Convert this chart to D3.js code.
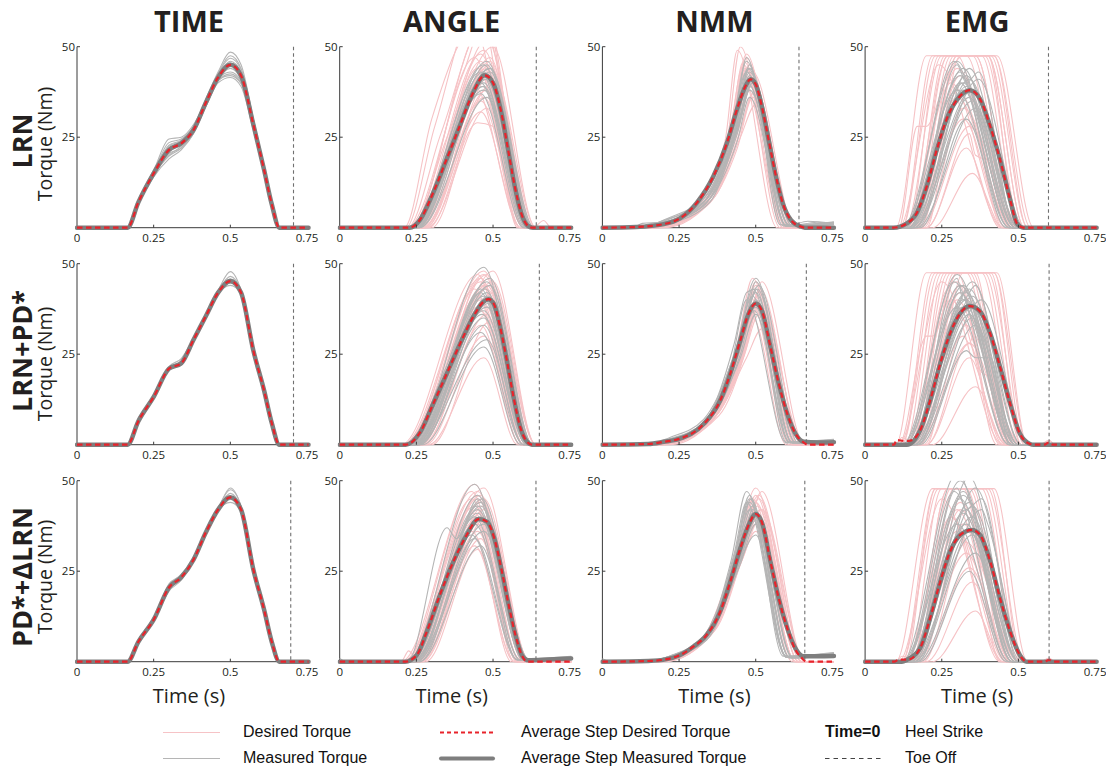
<!DOCTYPE html>
<html><head><meta charset="utf-8">
<script src="https://cdn.jsdelivr.net/npm/d3@7"></script>
<style>body{margin:0;background:#fff}</style>
</head><body>
<svg id="c" width="1106" height="769"></svg>
<script>
// ---------------- DATA ----------------
const colTitles = ["TIME", "ANGLE", "NMM", "EMG"];
const rowTitles = ["LRN", "LRN+PD*", "PD*+ΔLRN"];
const yAxisTitle = "Torque (Nm)";
const xAxisTitle = "Time (s)";
const xTicks = [0, 0.25, 0.5, 0.75];
const xTickLabels = ["0", "0.25", "0.5", "0.75"];
const yTicks = [25, 50];
const yTickLabels = ["25", "50"];
// toe-off time per row, per column
const toeOff = [[0.706, 0.641, 0.641, 0.598], [0.706, 0.651, 0.665, 0.600], [0.697, 0.640, 0.660, 0.600]];

// TIME column: values at shared knot times
const timeKnots = [0.165, 0.2, 0.25, 0.3, 0.34, 0.38, 0.42, 0.46, 0.5, 0.535, 0.575, 0.61, 0.635, 0.66];
const timeMean = [
  [0, 7, 15, 21.5, 23.3, 27, 34.5, 41.5, 45, 42, 28.5, 16, 6.5, 0],
  [0, 6.5, 13.2, 21, 22.5, 29, 35.5, 42, 45.2, 42, 26, 15, 6, 0],
  [0, 5.5, 11.6, 20.5, 23.3, 28.2, 35.7, 42, 45.4, 42, 25.5, 14.4, 5.5, 0]
];
const timeMeasured = [
  [[0,7,15.5,23.5,24.5,28,35,42.5,47.5,44,30,17,7,0],
   [0,6.5,14,19,21.5,26,34,41,43,40.5,27.5,15,6,0],
   [0,7.5,16,22.5,24,27.5,35,42,46,43,29.5,17,7,0],
   [0,6.5,14.5,20,22.5,26.5,33.5,40,41.5,39,27,15.5,6,0],
   [0,7,15,22,23.8,27.5,35.5,43,48.5,45,30,16.5,7,0],
   [0,7,15,21,23,26.5,34,41,44,41,28,16,6.8,0],
   [0,7.2,15.8,24.5,25,28.5,35,42,45.5,43,29,16,6.5,0],
   [0,6.8,14.8,20.5,22,26,33.5,40.5,42.5,40,28,16.5,7.5,0],
   [0,7,15.2,22.8,24.2,27.8,35.2,42.4,46.8,43.6,29.2,16.2,6.6,0],
   [0,6.7,14.6,19.8,22,26.2,33.8,40.8,42,39.8,27.6,15.8,6.4,0]],
  [[0,6.6,13.5,21.3,22.8,29.3,35.8,42.3,45.8,42.3,26.3,15.2,6.2,0],
   [0,6.4,13,20.6,22.2,28.6,35.2,41.6,44,41.6,25.6,14.8,5.8,0],
   [0,6.6,13.4,21.6,23.8,29.4,36,42.6,47.8,42.6,26.6,15.3,6.4,0],
   [0,6.5,13.1,20.8,22,28.8,35.3,42,44.6,42,26.1,15,6.6,0],
   [0,6.5,13.2,21.2,23.2,29.1,35.6,42.2,46.5,42.3,26.2,15.1,6.1,0]],
  [[0,6,12,21.5,24,28.5,36,42.5,47.5,43,26,14.8,6,0],
   [0,5.3,11.3,19.5,22.5,28,35.5,41.8,44,41.5,25,14.2,5.5,0],
   [0,5.6,11.8,21,23.8,28.5,36,42.3,46.5,42.5,25.8,14.6,5.8,0],
   [0,5.4,11.4,20,23,28,35.4,41.6,44.8,41.8,25.2,14.3,5.3,0],
   [0,5.5,11.6,20.8,24.2,28.4,35.8,42.2,48,42.8,25.6,14.5,5.6,0]]
];

// Other columns: each curve is a flat list of knots t,v,t,v,...
const angleMeasuredMean = [
  [0.228,0, 0.261,2.1, 0.304,9.5, 0.348,18.8, 0.391,28, 0.435,37.3, 0.473,42.1, 0.5,40, 0.527,31.8, 0.549,21.6, 0.571,11.4, 0.592,4, 0.614,0.5, 0.63,0],
  [0.215,0, 0.262,3.4, 0.305,11.3, 0.349,19.6, 0.393,28, 0.436,35.4, 0.469,39.5, 0.485,40.2, 0.502,39, 0.523,32.6, 0.545,23.3, 0.567,13.1, 0.589,4.8, 0.61,0.9, 0.627,0],
  [0.213,0, 0.251,1.8, 0.284,8.3, 0.327,18.5, 0.371,27.7, 0.414,35, 0.453,39.4, 0.48,38.7, 0.507,33.2, 0.529,24.9, 0.551,15.7, 0.573,7.4, 0.594,1.8, 0.615,0.4, 0.68,0.6, 0.755,0.9]
];
const angleDesiredMean = [
  angleMeasuredMean[0],
  angleMeasuredMean[1],
  [0.213,0, 0.251,1.8, 0.284,8.3, 0.327,18.5, 0.371,27.7, 0.414,35, 0.453,39.4, 0.48,38.7, 0.507,33.2, 0.529,24.9, 0.551,15.7, 0.573,7.4, 0.594,1.8, 0.611,0]
];
const anglePink = [
  [[0.215,0, 0.31,28, 0.45,62, 0.6,0],[0.22,0, 0.33,26, 0.47,56, 0.62,0],[0.23,0, 0.35,25, 0.48,52, 0.63,0],
   [0.24,0, 0.47,49, 0.62,0],[0.25,0, 0.46,46, 0.6,0],[0.25,0, 0.49,45, 0.63,0],[0.26,0, 0.47,42, 0.61,0],
   [0.27,0, 0.48,38, 0.6,0],[0.28,0, 0.46,32, 0.59,0],[0.29,0, 0.45,29, 0.5,28, 0.58,0],[0.3,0, 0.47,36, 0.6,0],
   [0.23,0, 0.44,47, 0.59,0],[0.24,0, 0.5,50, 0.64,0],[0.26,0, 0.45,44, 0.6,0],[0.27,0, 0.5,40, 0.62,0],
   [0.24,0, 0.48,43, 0.63,0, 0.665,2, 0.69,0],[0.22,0, 0.4,42, 0.48,58, 0.61,0],[0.28,0, 0.49,47, 0.62,0],
   [0.21,0, 0.3,30, 0.44,55, 0.59,0],[0.235,0, 0.46,48, 0.61,0],[0.245,0, 0.48,44, 0.62,0],[0.255,0, 0.47,41, 0.615,0],
   [0.265,0, 0.49,46, 0.635,0],[0.275,0, 0.46,35, 0.6,0],[0.285,0, 0.48,33, 0.6,0],[0.23,0, 0.42,50, 0.47,60, 0.61,0],
   [0.25,0, 0.44,39, 0.59,0],[0.27,0, 0.5,43, 0.64,0]],
  [[0.2,0, 0.45,47, 0.6,0],[0.21,0, 0.47,48, 0.62,0],[0.22,0, 0.46,45, 0.6,0],[0.23,0, 0.48,47, 0.63,0],
   [0.24,0, 0.47,44, 0.61,0],[0.25,0, 0.49,46, 0.64,0],[0.26,0, 0.46,40, 0.6,0],[0.27,0, 0.48,36, 0.6,0],
   [0.28,0, 0.47,30, 0.59,0],[0.29,0, 0.47,24, 0.58,0],[0.22,0, 0.44,43, 0.59,0],[0.24,0, 0.5,42, 0.63,0],
   [0.3,0, 0.49,34, 0.61,0],[0.21,0, 0.35,22, 0.46,46, 0.61,0],[0.25,0, 0.45,38, 0.6,0],[0.26,0, 0.5,48, 0.64,0],
   [0.205,0, 0.46,46, 0.61,0],[0.215,0, 0.48,44, 0.62,0],[0.225,0, 0.47,47, 0.62,0],[0.235,0, 0.45,41, 0.6,0],
   [0.245,0, 0.48,43, 0.63,0],[0.255,0, 0.47,39, 0.61,0],[0.265,0, 0.49,44, 0.64,0],[0.275,0, 0.46,33, 0.59,0],
   [0.23,0, 0.5,45, 0.64,0],[0.24,0, 0.46,37, 0.6,0]],
  [[0.2,0, 0.44,49, 0.6,0],[0.21,0, 0.45,47, 0.61,0],[0.22,0, 0.43,45, 0.58,0],[0.23,0, 0.46,44, 0.6,0],
   [0.24,0, 0.44,41, 0.59,0],[0.25,0, 0.47,43, 0.62,0],[0.26,0, 0.45,38, 0.58,0],[0.27,0, 0.46,34, 0.57,0],
   [0.28,0, 0.45,31, 0.56,0],[0.2,0, 0.225,3, 0.24,2, 0.45,46, 0.6,0],[0.22,0, 0.47,48, 0.62,0],
   [0.25,0, 0.43,36, 0.57,0],[0.23,0, 0.45,42, 0.59,0],[0.26,0, 0.48,40, 0.61,0],
   [0.205,0, 0.45,45, 0.6,0],[0.215,0, 0.44,43, 0.59,0],[0.225,0, 0.46,46, 0.61,0],[0.235,0, 0.44,39, 0.58,0],
   [0.245,0, 0.46,41, 0.6,0],[0.255,0, 0.45,36, 0.58,0],[0.265,0, 0.47,42, 0.61,0],[0.21,0, 0.43,47, 0.58,0],
   [0.24,0, 0.47,45, 0.62,0],[0.27,0, 0.44,32, 0.57,0]]
];
const angleGray = [
  [[0.23,0, 0.47,45, 0.62,0],[0.24,0, 0.48,46, 0.63,0],[0.235,0, 0.46,43, 0.61,0],[0.25,0, 0.48,41, 0.62,0],
   [0.24,0, 0.47,39, 0.61,0],[0.26,0, 0.49,44, 0.63,0],[0.245,0, 0.46,37, 0.6,0],[0.23,0, 0.48,42, 0.625,0],
   [0.25,0, 0.47,40, 0.615,0],[0.24,0, 0.49,44, 0.635,0],[0.26,0, 0.48,36, 0.61,0],[0.235,0, 0.475,41, 0.62,0],
   [0.235,0, 0.47,43, 0.615,0],[0.245,0, 0.48,42, 0.625,0],[0.24,0, 0.46,40, 0.605,0],[0.25,0, 0.49,43, 0.63,0],
   [0.23,0, 0.47,38, 0.61,0],[0.255,0, 0.48,45, 0.625,0],[0.24,0, 0.475,42, 0.62,0],[0.25,0, 0.465,39, 0.61,0]],
  [[0.23,0, 0.47,49, 0.62,0],[0.24,0, 0.48,45, 0.63,0],[0.25,0, 0.46,42, 0.61,0],[0.235,0, 0.48,40, 0.62,0],
   [0.26,0, 0.47,33, 0.6,0],[0.27,0, 0.47,27, 0.59,0],[0.25,0, 0.48,29, 0.6,0],[0.24,0, 0.49,44, 0.63,0],
   [0.22,0, 0.34,20, 0.46,43, 0.61,0],[0.245,0, 0.47,37, 0.615,0],[0.255,0, 0.485,41, 0.625,0],[0.26,0, 0.46,31, 0.6,0],
   [0.235,0, 0.475,43, 0.62,0],[0.245,0, 0.48,38, 0.62,0],[0.25,0, 0.47,35, 0.61,0],[0.24,0, 0.49,46, 0.63,0],
   [0.255,0, 0.48,42, 0.625,0],[0.23,0, 0.47,41, 0.615,0],[0.26,0, 0.485,39, 0.62,0],[0.245,0, 0.465,36, 0.61,0]],
  [[0.22,0, 0.44,49, 0.6,0.8, 0.755,1.5],[0.23,0, 0.45,46, 0.61,0.5, 0.755,1],[0.24,0, 0.46,43, 0.6,0.6, 0.755,1.2],
   [0.25,0, 0.44,40, 0.59,0.4, 0.755,0.8],[0.24,0, 0.47,36, 0.61,0.5, 0.755,1],[0.26,0, 0.46,32, 0.58,0.5, 0.755,1.3],
   [0.22,0, 0.35,37, 0.38,34, 0.45,45, 0.6,0.6, 0.755,1],[0.23,0, 0.45,41, 0.6,0.4, 0.755,0.7],
   [0.25,0, 0.47,38, 0.62,0.5, 0.755,1.2],[0,1, 0.02,0, 0.24,0, 0.46,44, 0.61,0.6, 0.755,1],[0.26,0, 0.44,34, 0.58,0.5, 0.755,0.9],
   [0.225,0, 0.45,43, 0.6,0.5, 0.755,1],[0.235,0, 0.46,40, 0.61,0.6, 0.755,1.1],[0.23,0, 0.44,38, 0.59,0.5, 0.755,0.9],
   [0.245,0, 0.45,42, 0.6,0.4, 0.755,1],[0.24,0, 0.465,45, 0.61,0.6, 0.755,1.2],[0.22,0, 0.43,35, 0.58,0.5, 0.755,0.8],
   [0.25,0, 0.46,39, 0.61,0.5, 0.755,1]]
];

const nmmMeasuredMean = [
  [0.11,0.2, 0.2,1, 0.253,2.6, 0.307,6.8, 0.362,14.2, 0.406,23.4, 0.439,32.7, 0.466,39, 0.483,41, 0.5,39.6, 0.522,32.7, 0.544,23.4, 0.566,14.2, 0.588,6.8, 0.615,2.1, 0.647,0.3, 0.66,0],
  [0.15,0.2, 0.2,0.8, 0.25,1.6, 0.33,5.7, 0.384,12.2, 0.417,19.6, 0.45,28.9, 0.477,36.3, 0.5,39, 0.521,36.8, 0.548,27, 0.575,16.9, 0.603,8.5, 0.63,3, 0.657,0.8, 0.7,0.6, 0.755,0.7],
  [0.15,0.2, 0.21,0.7, 0.25,1.7, 0.297,4.2, 0.34,7.4, 0.384,13.8, 0.417,22.1, 0.45,31.4, 0.477,37.8, 0.5,40.8, 0.521,38.3, 0.548,27.7, 0.575,17.5, 0.603,9.2, 0.63,3.6, 0.655,1.5, 0.755,1.6]
];
const nmmDesiredMean = [
  nmmMeasuredMean[0],
  [0.15,0.2, 0.2,0.8, 0.25,1.6, 0.33,5.7, 0.384,12.2, 0.417,19.6, 0.45,28.9, 0.477,36.3, 0.5,39, 0.521,36.8, 0.548,27, 0.575,16.9, 0.603,8.5, 0.63,3, 0.657,0.6, 0.67,0],
  [0.15,0.2, 0.21,0.7, 0.25,1.7, 0.297,4.2, 0.34,7.4, 0.384,13.8, 0.417,22.1, 0.45,31.4, 0.477,37.8, 0.5,40.8, 0.521,38.3, 0.548,27.7, 0.575,17.5, 0.603,9.2, 0.63,3.2, 0.652,0.9, 0.665,0]
];
const nmmPink = [
  [[0.12,0, 0.3,5, 0.4,20, 0.45,50, 0.58,0],[0.14,0, 0.32,6, 0.41,22, 0.46,46, 0.6,0],[0.15,0, 0.33,6, 0.42,24, 0.47,44, 0.6,0],
   [0.16,0, 0.34,7, 0.43,25, 0.48,42, 0.61,0],[0.15,0, 0.35,7, 0.44,26, 0.49,40, 0.62,0],[0.18,0, 0.36,8, 0.44,24, 0.5,38, 0.62,0],
   [0.2,0, 0.37,9, 0.45,25, 0.5,34, 0.61,0],[0.14,0, 0.33,7, 0.42,27, 0.47,48, 0.6,0],[0.16,0, 0.35,8, 0.43,26, 0.48,45, 0.61,0],
   [0.18,0, 0.36,9, 0.44,28, 0.49,43, 0.63,0],[0.13,0, 0.32,6, 0.41,23, 0.46,41, 0.59,0],[0.17,0, 0.34,6, 0.44,22, 0.49,36, 0.6,0],
   [0.12,0, 0.3,6, 0.4,24, 0.44,49, 0.57,0],
   [0.13,0, 0.31,6, 0.41,24, 0.46,45, 0.59,0],[0.15,0, 0.33,7, 0.42,25, 0.47,43, 0.6,0],[0.17,0, 0.35,8, 0.44,27, 0.48,40, 0.61,0],
   [0.14,0, 0.32,7, 0.42,26, 0.47,47, 0.59,0],[0.16,0, 0.34,7, 0.43,24, 0.485,39, 0.62,0],[0.19,0, 0.36,8, 0.45,27, 0.49,37, 0.61,0],
   [0.15,0, 0.33,6, 0.43,28, 0.465,44, 0.6,0]],
  [[0.15,0, 0.33,5, 0.43,22, 0.49,46, 0.62,0],[0.16,0, 0.34,5, 0.44,23, 0.5,44, 0.63,0],[0.18,0, 0.35,6, 0.45,24, 0.51,42, 0.64,0],
   [0.17,0, 0.36,7, 0.46,25, 0.52,40, 0.65,0],[0.2,0, 0.37,8, 0.46,24, 0.51,36, 0.64,0],[0.22,0, 0.38,9, 0.47,24, 0.52,32, 0.63,0],
   [0.16,0, 0.35,6, 0.45,26, 0.5,43, 0.66,0],[0.19,0, 0.36,7, 0.45,22, 0.5,38, 0.62,0],[0.15,0, 0.33,6, 0.43,24, 0.48,41, 0.61,0],
   [0.2,0, 0.38,8, 0.47,27, 0.52,45, 0.66,0],[0.18,0, 0.34,6, 0.44,21, 0.49,35, 0.6,0],
   [0.16,0, 0.34,6, 0.44,24, 0.5,45, 0.63,0],[0.17,0, 0.35,6, 0.45,25, 0.505,41, 0.64,0],[0.19,0, 0.37,8, 0.46,26, 0.515,43, 0.65,0],
   [0.18,0, 0.35,7, 0.45,23, 0.5,37, 0.62,0],[0.16,0, 0.34,6, 0.44,25, 0.49,42, 0.63,0],[0.2,0, 0.37,8, 0.46,25, 0.51,39, 0.64,0]],
  [[0.15,0, 0.33,6, 0.43,27, 0.5,48, 0.64,0],[0.16,0, 0.34,7, 0.44,28, 0.51,46, 0.65,0],[0.18,0, 0.35,7, 0.45,29, 0.5,44, 0.64,0],
   [0.17,0, 0.35,8, 0.45,28, 0.52,42, 0.66,0],[0.2,0, 0.36,8, 0.46,29, 0.51,39, 0.65,0],[0.16,0, 0.34,7, 0.44,29, 0.49,45, 0.63,0],
   [0.19,0, 0.36,9, 0.45,27, 0.5,36, 0.63,0],[0.14,0, 0.32,6, 0.42,26, 0.48,43, 0.62,0],[0.2,0, 0.37,9, 0.46,30, 0.52,47, 0.66,0],
   [0.17,0, 0.34,7, 0.44,26, 0.5,40, 0.63,0],
   [0.16,0, 0.34,7, 0.44,28, 0.5,46, 0.64,0],[0.17,0, 0.35,7, 0.45,28, 0.505,43, 0.65,0],[0.18,0, 0.35,8, 0.45,29, 0.51,45, 0.65,0],
   [0.15,0, 0.33,6, 0.43,27, 0.49,41, 0.63,0],[0.19,0, 0.36,8, 0.46,30, 0.515,42, 0.66,0],[0.16,0, 0.34,7, 0.44,27, 0.5,38, 0.63,0]]
];
const nmmGray = [
  [[0.1,0, 0.13,1.2, 0.2,1.5, 0.32,7, 0.42,26, 0.47,46, 0.6,0.5, 0.755,1.5],[0.11,0, 0.15,1, 0.22,2, 0.33,7, 0.43,28, 0.48,44, 0.61,0.4, 0.7,1.5, 0.755,1],
   [0.12,0, 0.2,2, 0.34,8, 0.43,25, 0.48,42, 0.6,0.6, 0.755,1.2],[0.1,0, 0.2,1.5, 0.33,6, 0.44,27, 0.49,40, 0.62,0.3, 0.755,1],
   [0.13,0, 0.22,1.5, 0.35,8, 0.44,26, 0.48,38, 0.61,0.5, 0.755,0.8],[0.12,0, 0.21,2.5, 0.34,9, 0.43,27, 0.47,47, 0.59,0.5, 0.755,1.6],
   [0.11,0, 0.2,1, 0.34,7, 0.44,24, 0.48,36, 0.6,0.4, 0.755,0.9],[0.1,0, 0.2,1.8, 0.32,8, 0.42,28, 0.47,43, 0.61,0.7, 0.67,1.8, 0.755,1.2],
   [0.12,0, 0.22,1.2, 0.35,7, 0.45,30, 0.49,41, 0.62,0.5, 0.755,1.1],[0.14,0, 0.23,2, 0.35,9, 0.44,29, 0.48,45, 0.58,0.8, 0.755,1.3],
   [0.11,0, 0.21,1.5, 0.33,7, 0.43,27, 0.48,43, 0.6,0.5, 0.755,1.2],[0.12,0, 0.22,1.8, 0.34,8, 0.44,28, 0.485,41, 0.61,0.6, 0.755,1],
   [0.1,0, 0.2,1.4, 0.33,7, 0.43,26, 0.475,40, 0.6,0.5, 0.755,1.4],[0.13,0, 0.23,2, 0.35,8, 0.44,27, 0.48,39, 0.6,0.4, 0.755,1.1],
   [0.11,0, 0.21,1.6, 0.34,8, 0.43,29, 0.475,44, 0.61,0.6, 0.755,1.3]],
  [[0.12,0, 0.2,1, 0.32,5, 0.43,24, 0.5,46, 0.63,0.6, 0.755,1.3],[0.13,0, 0.22,1.5, 0.34,6, 0.44,25, 0.49,43, 0.62,0.5, 0.755,1],
   [0.14,0, 0.2,1.2, 0.33,6, 0.43,28, 0.47,42, 0.5,43, 0.61,0.8, 0.755,1.5],[0.15,0, 0.23,1.5, 0.35,7, 0.45,25, 0.5,40, 0.62,0.5, 0.755,0.9],
   [0.12,0, 0.21,1, 0.34,6, 0.44,27, 0.5,38, 0.6,0.7, 0.755,1.2],[0.14,0, 0.22,2, 0.33,7, 0.44,26, 0.51,44, 0.64,0.4, 0.755,1],
   [0.13,0, 0.22,1.3, 0.35,7, 0.45,24, 0.5,36, 0.61,0.6, 0.755,1.4],[0.15,0, 0.24,1.6, 0.35,8, 0.46,30, 0.5,45, 0.63,0.6, 0.755,1.2],
   [0.12,0, 0.2,1, 0.32,5, 0.42,22, 0.47,40, 0.6,0.5, 0.755,1],
   [0.13,0, 0.21,1.2, 0.33,6, 0.44,26, 0.5,42, 0.62,0.6, 0.755,1.2],[0.14,0, 0.22,1.4, 0.34,6, 0.44,25, 0.5,39, 0.62,0.5, 0.755,1.1],
   [0.12,0, 0.21,1.1, 0.33,6, 0.43,25, 0.49,41, 0.61,0.6, 0.755,1.3],[0.15,0, 0.23,1.5, 0.35,7, 0.45,27, 0.505,43, 0.63,0.5, 0.755,1],
   [0.13,0, 0.22,1.3, 0.34,7, 0.44,24, 0.495,37, 0.61,0.6, 0.755,1.2]],
  [[0.12,0, 0.22,1.5, 0.33,6, 0.42,28, 0.47,47, 0.6,1.5, 0.755,2.5],[0.13,0, 0.23,1.5, 0.34,6, 0.43,28, 0.48,45, 0.61,1.2, 0.755,2],
   [0.14,0, 0.22,1.2, 0.34,7, 0.44,30, 0.49,43, 0.62,1, 0.755,1.8],[0.15,0, 0.24,2, 0.35,8, 0.45,28, 0.5,40, 0.62,1.3, 0.755,2.2],
   [0.12,0, 0.21,1, 0.34,7, 0.44,26, 0.5,35, 0.6,1.2, 0.755,1.6],[0.13,0, 0.22,1.6, 0.33,7, 0.43,29, 0.48,46, 0.59,1.5, 0.755,2.4],
   [0.14,0, 0.23,1.8, 0.35,8, 0.45,27, 0.5,38, 0.61,1, 0.755,1.5],[0.12,0, 0.21,1.2, 0.33,6, 0.43,30, 0.47,44, 0.6,1.2, 0.755,2],
   [0,0.8, 0.03,0, 0.14,0, 0.24,1.5, 0.35,8, 0.45,29, 0.49,42, 0.61,1.2, 0.755,1.8],
   [0.13,0, 0.22,1.4, 0.34,7, 0.43,29, 0.48,44, 0.6,1.2, 0.755,2],[0.14,0, 0.23,1.6, 0.35,7, 0.44,28, 0.49,41, 0.61,1.3, 0.755,2.2],
   [0.12,0, 0.22,1.3, 0.33,6, 0.43,28, 0.48,42, 0.6,1.4, 0.755,1.8],[0.15,0, 0.24,1.8, 0.35,8, 0.45,29, 0.5,39, 0.62,1.2, 0.755,2.1],
   [0.13,0, 0.22,1.5, 0.34,7, 0.44,30, 0.485,45, 0.6,1.5, 0.755,2.3]]
];

const emgMeasuredMean = [
  [0.092,0, 0.136,1.2, 0.168,4, 0.201,11.4, 0.234,21.6, 0.266,30, 0.31,36.4, 0.342,38, 0.375,35.5, 0.408,28, 0.44,18.8, 0.473,7.7, 0.495,1.2, 0.516,0],
  [0.136,0, 0.179,3.9, 0.212,12.2, 0.245,22.4, 0.277,30.7, 0.31,36.3, 0.342,38.3, 0.375,36.8, 0.408,30.7, 0.44,21.5, 0.473,11.3, 0.505,3, 0.538,0.2, 0.55,0],
  [0.12,0, 0.136,0.5, 0.179,3.7, 0.212,12, 0.245,22.1, 0.277,30.4, 0.31,35, 0.348,36.4, 0.375,35, 0.408,27.7, 0.44,17.5, 0.473,8.3, 0.505,1.8, 0.527,0]
];
const emgDesiredMean = [
  emgMeasuredMean[0],
  [0.095,0, 0.102,1.3, 0.13,1, 0.15,1.2, 0.179,3.9, 0.212,12.2, 0.245,22.4, 0.277,30.7, 0.31,36.3, 0.342,38.3, 0.375,36.8, 0.408,30.7, 0.44,21.5, 0.473,11.3, 0.505,3, 0.538,0.2, 0.55,0, 0.585,0, 0.6,0.7, 0.612,0],
  [0.095,0, 0.11,0.6, 0.14,0.6, 0.179,3.7, 0.212,12, 0.245,22.1, 0.277,30.4, 0.31,35, 0.348,36.4, 0.375,35, 0.408,27.7, 0.44,17.5, 0.473,8.3, 0.505,1.8, 0.527,0, 0.585,0, 0.6,0.5, 0.612,0]
];
const emgPink = [
  [[0.1,0, 0.2,47.5, 0.3,47.5, 0.45,0],[0.12,0, 0.22,47.5, 0.35,47.5, 0.48,0],[0.14,0, 0.24,47.5, 0.38,47.5, 0.5,0],
   [0.15,0, 0.26,47.5, 0.4,47.5, 0.52,0],[0.16,0, 0.28,47.5, 0.42,47.5, 0.54,0],[0.18,0, 0.3,47.5, 0.43,47.5, 0.55,0],
   [0.13,0, 0.25,47.5, 0.33,47.5, 0.47,0],[0.11,0, 0.17,28, 0.2,28, 0.26,40, 0.32,47.5, 0.4,47.5, 0.5,0],
   [0.16,0, 0.32,30, 0.46,0],[0.2,0, 0.33,22, 0.44,0],[0.22,0, 0.35,15, 0.45,0],[0.18,0, 0.3,38, 0.48,0],
   [0.15,0, 0.3,44, 0.5,0],[0.2,0, 0.34,26, 0.36,20, 0.42,18, 0.47,0],[0.14,0, 0.27,47.5, 0.36,47.5, 0.49,0],
   [0.17,0, 0.29,47.5, 0.41,47.5, 0.53,0],
   [0.12,0, 0.23,47.5, 0.36,47.5, 0.49,0],[0.15,0, 0.27,47.5, 0.39,47.5, 0.51,0],[0.17,0, 0.3,47.5, 0.42,47.5, 0.53,0],
   [0.13,0, 0.28,40, 0.46,0],[0.14,0, 0.3,36, 0.48,0],[0.19,0, 0.32,33, 0.5,0],[0.16,0, 0.31,42, 0.51,0],
   [0.11,0, 0.24,45, 0.45,0],[0.18,0, 0.34,28, 0.49,0],[0.2,0, 0.31,47.5, 0.4,47.5, 0.52,0]],
  [[0.1,0, 0.2,47.5, 0.3,47.5, 0.43,0],[0.12,0, 0.23,47.5, 0.35,47.5, 0.47,0],[0.14,0, 0.25,47.5, 0.38,47.5, 0.5,0],
   [0.15,0, 0.27,47.5, 0.4,47.5, 0.52,0],[0.17,0, 0.29,47.5, 0.42,47.5, 0.53,0],[0.13,0, 0.24,47.5, 0.33,47.5, 0.46,0],
   [0.1,0, 0.12,2, 0.15,1, 0.26,42, 0.3,45, 0.44,0],[0.16,0, 0.32,30, 0.34,28, 0.36,32, 0.48,0],[0.2,0, 0.34,24, 0.45,0],
   [0.22,0, 0.36,16, 0.46,0],[0.18,0, 0.32,38, 0.49,0],[0.15,0, 0.31,44, 0.5,0],[0.2,0, 0.34,28, 0.38,20, 0.43,18, 0.48,0],
   [0.16,0, 0.28,47.5, 0.41,47.5, 0.51,0],[0.11,0, 0.2,30, 0.22,30, 0.3,47.5, 0.36,47.5, 0.46,0],
   [0.15,0, 0.3,40, 0.47,0, 0.57,0, 0.6,1.2, 0.62,0],
   [0.12,0, 0.22,47.5, 0.34,47.5, 0.47,0],[0.15,0, 0.26,47.5, 0.39,47.5, 0.51,0],[0.18,0, 0.3,47.5, 0.43,47.5, 0.53,0],
   [0.13,0, 0.28,40, 0.46,0],[0.14,0, 0.3,36, 0.48,0],[0.19,0, 0.33,33, 0.5,0],[0.16,0, 0.31,42, 0.51,0],
   [0.11,0, 0.25,45, 0.45,0],[0.17,0, 0.34,28, 0.49,0],[0.2,0, 0.32,47.5, 0.42,47.5, 0.52,0]],
  [[0.1,0, 0.22,47.8, 0.32,47.8, 0.44,0],[0.12,0, 0.24,47.8, 0.35,47.8, 0.47,0],[0.14,0, 0.25,47.8, 0.38,47.8, 0.5,0],
   [0.15,0, 0.27,47.8, 0.4,47.8, 0.52,0],[0.13,0, 0.23,47.8, 0.33,47.8, 0.46,0],[0.1,0, 0.12,1.5, 0.16,1, 0.28,40, 0.44,0],
   [0.16,0, 0.33,30, 0.47,0],[0.2,0, 0.35,22, 0.46,0],[0.18,0, 0.32,38, 0.49,0],[0.15,0, 0.31,44, 0.5,0],
   [0.22,0, 0.36,14, 0.45,0],[0.16,0, 0.28,47.8, 0.41,47.8, 0.51,0],[0.15,0, 0.3,42, 0.47,0, 0.57,0, 0.6,1, 0.62,0],
   [0.12,0, 0.23,47.8, 0.34,47.8, 0.47,0],[0.15,0, 0.27,47.8, 0.39,47.8, 0.51,0],[0.17,0, 0.29,47.8, 0.42,47.8, 0.53,0],
   [0.13,0, 0.28,40, 0.46,0],[0.14,0, 0.3,36, 0.48,0],[0.19,0, 0.33,33, 0.5,0],[0.16,0, 0.31,42, 0.51,0],
   [0.11,0, 0.25,45, 0.45,0],[0.18,0, 0.34,26, 0.48,0]]
];
const emgGray = [
  [[0.12,0, 0.3,46, 0.48,0],[0.13,0, 0.32,44, 0.49,0],[0.14,0, 0.33,42, 0.5,0],[0.15,0, 0.31,40, 0.47,0],
   [0.14,0, 0.35,38, 0.5,0],[0.16,0, 0.34,36, 0.48,0],[0.17,0, 0.36,33, 0.49,0],[0.15,0, 0.3,45, 0.33,40, 0.37,43, 0.49,0],
   [0.18,0, 0.33,30, 0.46,0],[0.13,0, 0.29,46, 0.47,0],[0.16,0, 0.37,41, 0.52,0],[0.14,0, 0.32,38, 0.48,0],
   [0.13,0, 0.31,42, 0.48,0],[0.14,0, 0.32,40, 0.49,0],[0.15,0, 0.34,41, 0.5,0],[0.12,0, 0.3,38, 0.47,0],
   [0.16,0, 0.33,39, 0.49,0],[0.14,0, 0.31,43, 0.48,0],[0.15,0, 0.35,35, 0.5,0],[0.17,0, 0.34,44, 0.5,0]],
  [[0.12,0, 0.3,47, 0.48,0],[0.13,0, 0.31,44, 0.49,0],[0.14,0, 0.33,42, 0.5,0],[0.15,0, 0.32,40, 0.48,0],
   [0.14,0, 0.35,38, 0.5,0],[0.16,0, 0.34,36, 0.48,0],[0.17,0, 0.36,33, 0.49,0],[0.15,0, 0.3,46, 0.32,40, 0.36,44, 0.49,0],
   [0.18,0, 0.33,26, 0.36,24, 0.41,24, 0.47,0],[0.13,0, 0.29,45, 0.47,0],[0.16,0, 0.38,40, 0.53,0],[0.14,0, 0.32,38, 0.48,0],
   [0.17,0, 0.35,45, 0.51,0],
   [0.13,0, 0.31,42, 0.48,0],[0.14,0, 0.33,40, 0.49,0],[0.15,0, 0.34,43, 0.5,0],[0.12,0, 0.3,38, 0.47,0],
   [0.16,0, 0.34,39, 0.5,0],[0.14,0, 0.32,44, 0.48,0],[0.15,0, 0.35,35, 0.5,0],[0.17,0, 0.35,41, 0.51,0]],
  [[0.12,0, 0.3,52, 0.48,0],[0.13,0, 0.31,50, 0.49,0],[0.14,0, 0.32,46, 0.5,0],[0.15,0, 0.33,42, 0.48,0],
   [0.14,0, 0.35,40, 0.5,0],[0.16,0, 0.34,36, 0.48,0],[0.17,0, 0.36,30, 0.49,0],[0.15,0, 0.3,48, 0.33,42, 0.38,45, 0.5,0],
   [0.18,0, 0.34,25, 0.46,0],[0.13,0, 0.29,47, 0.47,0],[0.16,0, 0.38,42, 0.4,38, 0.52,0],[0.14,0, 0.33,38, 0.48,0],
   [0.17,0, 0.36,48, 0.52,0],
   [0.13,0, 0.31,45, 0.48,0],[0.14,0, 0.32,41, 0.49,0],[0.15,0, 0.34,44, 0.5,0],[0.12,0, 0.3,38, 0.47,0],
   [0.16,0, 0.34,51, 0.5,0],[0.14,0, 0.32,47, 0.48,0],[0.15,0, 0.35,35, 0.5,0],[0.17,0, 0.35,43, 0.51,0]]
];

const legendLabels = ["Desired Torque", "Measured Torque", "Average Step Desired Torque", "Average Step Measured Torque", "Heel Strike", "Toe Off"];
const legendBoldKey = "Time=0";

// ---------------- DRAWING ----------------
const COLORS = { pink: "#f6c3c6", gray: "#b5b5b5", meanGray: "#7e7e7e", red: "#e8232b", axis: "#3a3a3a", text: "#231f20" };
const W = 230, H = 181;
const svg = d3.select("#c");

function flatToPts(flat) {
  const pts = [];
  for (let i = 0; i < flat.length; i += 2) pts.push([flat[i], flat[i + 1]]);
  if (pts[0][0] > 0) pts.unshift([0, 0]);
  if (pts[pts.length - 1][0] < 0.755) pts.push([0.755, pts[pts.length - 1][1]]);
  return pts;
}
function timeToPts(vals) { return flatToPts(timeKnots.flatMap((t, i) => [t, vals[i]])); }

function panelData(r, c) {
  if (c === 0) {
    return { pink: [], gray: timeMeasured[r].map(timeToPts), desired: timeToPts(timeMean[r]), measured: timeToPts(timeMean[r]) };
  }
  const src = [null,
    [anglePink, angleGray, angleDesiredMean, angleMeasuredMean],
    [nmmPink, nmmGray, nmmDesiredMean, nmmMeasuredMean],
    [emgPink, emgGray, emgDesiredMean, emgMeasuredMean]][c];
  return { pink: src[0][r].map(flatToPts), gray: src[1][r].map(flatToPts), desired: flatToPts(src[2][r]), measured: flatToPts(src[3][r]) };
}

const defs = svg.append("defs");

rowTitles.forEach((rt, r) => {
  colTitles.forEach((ct, c) => {
    const x0 = 77 + c * 262.7, yb = 227.7 + r * 217;
    const x = d3.scaleLinear().domain([0, 0.75]).range([x0, x0 + W]);
    const y = d3.scaleLinear().domain([0, 50]).range([yb, yb - H]);
    const line = d3.line().x(d => x(d[0])).y(d => y(d[1])).curve(d3.curveMonotoneX);
    const id = `clip${r}${c}`;
    defs.append("clipPath").attr("id", id).append("rect")
      .attr("x", x0 - 2).attr("y", y(50)).attr("width", W + 6).attr("height", H + 6);
    const g = svg.append("g");
    g.append("line").attr("x1", x0).attr("x2", x0).attr("y1", y(50)).attr("y2", yb).attr("stroke", COLORS.axis).attr("stroke-width", 1);
    g.append("line").attr("x1", x0).attr("x2", x(0.75)).attr("y1", yb).attr("y2", yb).attr("stroke", COLORS.axis).attr("stroke-width", 1);
    const pd = panelData(r, c);
    const lg = g.append("g").attr("clip-path", `url(#${id})`);
    lg.selectAll("path.pk").data(pd.pink).join("path").attr("class", "pk").attr("d", line)
      .attr("fill", "none").attr("stroke", COLORS.pink).attr("stroke-width", 1.1);
    lg.selectAll("path.gy").data(pd.gray).join("path").attr("class", "gy").attr("d", line)
      .attr("fill", "none").attr("stroke", COLORS.gray).attr("stroke-width", 1.1);
    lg.append("path").attr("d", line(pd.measured)).attr("fill", "none").attr("stroke", COLORS.meanGray)
      .attr("stroke-width", 4.5).attr("stroke-linecap", "round").attr("stroke-linejoin", "round");
    lg.append("path").attr("d", line(pd.desired)).attr("fill", "none").attr("stroke", COLORS.red)
      .attr("stroke-width", 2.2).attr("stroke-dasharray", "5.5,3.5");
    g.append("line").attr("x1", x(toeOff[r][c])).attr("x2", x(toeOff[r][c])).attr("y1", y(50)).attr("y2", yb)
      .attr("stroke", "#707070").attr("stroke-width", 1.1).attr("stroke-dasharray", "3.5,3");
    xTicks.forEach((t, i) => {
      if (t > 0 && t < 0.75) g.append("line").attr("x1", x(t)).attr("x2", x(t)).attr("y1", yb).attr("y2", yb - 3).attr("stroke", COLORS.axis);
      g.append("text").attr("x", x(t)).attr("y", yb + 14.5).attr("text-anchor", "middle")
        .attr("font-family", "Open Sans").attr("font-size", 11.5).attr("fill", COLORS.text).text(xTickLabels[i]);
    });
    yTicks.forEach((t, i) => {
      g.append("line").attr("x1", x0).attr("x2", x0 + 3).attr("y1", y(t)).attr("y2", y(t)).attr("stroke", COLORS.axis);
      g.append("text").attr("x", x0 - 2).attr("y", y(t) + 4).attr("text-anchor", "end")
        .attr("font-family", "Open Sans").attr("font-size", 11.5).attr("fill", COLORS.text).text(yTickLabels[i]);
    });
    if (r === 0) {
      svg.append("text").attr("x", x0 + 112).attr("y", 31.5).attr("text-anchor", "middle")
        .attr("font-family", "Open Sans").attr("font-weight", 700).attr("font-size", 29).attr("fill", COLORS.text).text(ct);
    }
    if (r === 2) {
      svg.append("text").attr("x", x0 + 112).attr("y", 703).attr("text-anchor", "middle")
        .attr("font-family", "Open Sans").attr("font-size", 20).attr("fill", COLORS.text).text(xAxisTitle);
    }
  });
});

// row labels
const rowLabelY = [[141, 144], [351, 364], [577, 577]];
rowTitles.forEach((rt, r) => {
  svg.append("text").attr("transform", `translate(32,${rowLabelY[r][0]}) rotate(-90)`).attr("text-anchor", "middle")
    .attr("font-family", "Open Sans").attr("font-weight", 700).attr("font-size", 27).attr("fill", COLORS.text).text(rt);
  svg.append("text").attr("transform", `translate(52,${rowLabelY[r][1]}) rotate(-90)`).attr("text-anchor", "middle")
    .attr("font-family", "Open Sans").attr("font-size", 19.5).attr("fill", COLORS.text).text(yAxisTitle);
});

// legend
const lf = "Liberation Sans, Arial, sans-serif";
const L = svg.append("g");
const row1y = 732.5, row2y = 758.5;
L.append("line").attr("x1", 163).attr("x2", 220).attr("y1", row1y).attr("y2", row1y).attr("stroke", COLORS.pink).attr("stroke-width", 1);
L.append("line").attr("x1", 163).attr("x2", 220).attr("y1", row2y).attr("y2", row2y).attr("stroke", COLORS.gray).attr("stroke-width", 1);
L.append("line").attr("x1", 440).attr("x2", 496).attr("y1", row1y).attr("y2", row1y).attr("stroke", COLORS.red).attr("stroke-width", 2).attr("stroke-dasharray", "4,3");
L.append("line").attr("x1", 441).attr("x2", 493).attr("y1", row2y).attr("y2", row2y).attr("stroke", COLORS.meanGray).attr("stroke-width", 4).attr("stroke-linecap", "round");
L.append("line").attr("x1", 825).attr("x2", 882).attr("y1", row2y).attr("y2", row2y).attr("stroke", "#444").attr("stroke-width", 1).attr("stroke-dasharray", "4.5,4");
L.append("text").attr("x", 825).attr("y", 737).attr("font-family", lf).attr("font-weight", 700).attr("font-size", 16).attr("fill", "#111").text(legendBoldKey);
const legendPos = [[243, 737], [243, 763], [521, 737], [521, 763], [905, 737], [905, 763]];
legendLabels.forEach((lab, i) => {
  L.append("text").attr("x", legendPos[i][0]).attr("y", legendPos[i][1]).attr("font-family", lf)
    .attr("font-size", 16).attr("fill", "#111").text(lab);
});
</script>
</body></html>
